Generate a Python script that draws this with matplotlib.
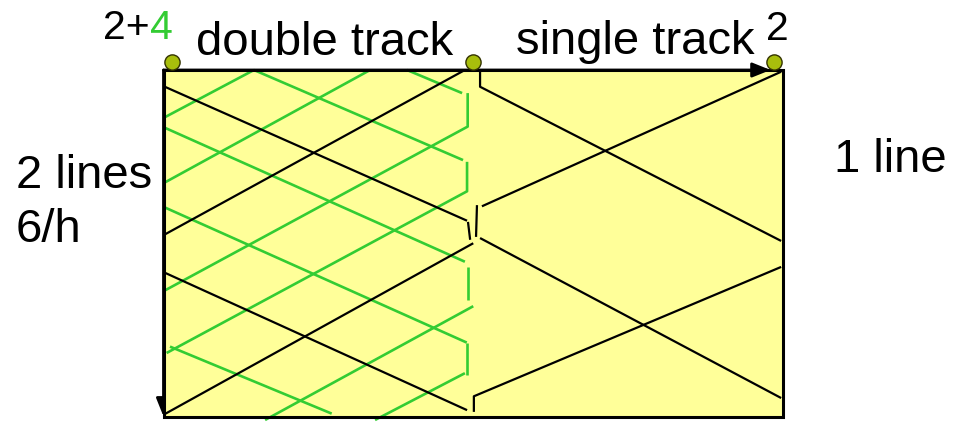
"""
Time-distance sketch: double track section with shuttles, single track beyond.
"""

import matplotlib
matplotlib.use('Agg')
import matplotlib.pyplot as plt
from matplotlib.patches import Rectangle

plt.rcParams['font.family'] = ['Liberation Sans', 'DejaVu Sans']

# Stations (km) and the hour shown (min)
station_km = [0, 10, 20]
dot_km = [0.27, 10.0, 19.7]
hour_min = 60

# Through trains (black), one list per drawn stroke: km and minutes
black_km = [
    [0.0, 9.8],
    [9.83, 9.9],
    [10.0, 0.0],
    [9.73, 0.0],
    [0.0, 9.8],
    [10.22, 10.22, 19.94],
    [19.94, 10.28],
    [10.12, 10.09],
    [10.22, 19.94],
    [19.94, 10.02, 10.02],
]
black_min = [
    [2.8, 26.1],
    [26.3, 29.4],
    [30.0, 59.7],
    [0.0, 28.6],
    [35.0, 58.9],
    [0.0, 2.9, 29.6],
    [0.3, 23.6],
    [23.4, 28.9],
    [29.1, 56.8],
    [34.1, 56.5, 59.2],
]

# Extra shuttles on the double track (green)
green_km = [
    [2.92, 0.0],
    [6.67, 0.0],
    [7.86, 9.64],
    [9.82, 9.82, 0.0],
    [2.92, 9.67],
    [9.8, 9.8, 0.1],
    [0.0, 9.73],
    [9.82, 9.82],
    [10.0, 3.28],
    [0.0, 9.79],
    [9.8, 9.8],
    [9.73, 6.83],
    [0.21, 5.43],
]
green_min = [
    [0.0, 8.3],
    [0.0, 19.6],
    [0.0, 4.0],
    [4.0, 9.8, 38.3],
    [0.0, 15.6],
    [15.9, 21.0, 49.0],
    [9.9, 33.2],
    [34.1, 39.8],
    [40.9, 60.6],
    [23.7, 47.2],
    [47.3, 52.8],
    [52.5, 60.6],
    [47.9, 59.5],
]

# Colours
yellow = '#FFFF99'
green = '#33CC33'
dotcol = '#A8BE0C'

# Pixel layout of the box
W, H = 964, 422
X0, SX = 163.5, 30.975  # px of km 0, px per km
Y0, SY = 70.0, 5.775    # px of min 0, px per min

fig = plt.figure(figsize=(W/100, H/100), dpi=100)
ax = fig.add_axes([0, 0, 1, 1])
ax.set_xlim((0 - X0)/SX, (W - X0)/SX)
ax.set_ylim((H - Y0)/SY, (0 - Y0)/SY)
ax.axis('off')

arrow = dict(arrowstyle='-|>,head_length=0.55,head_width=0.22', mutation_scale=20,
             lw=2, color='k', shrinkA=0, shrinkB=0)

# Time arrow down the left side (half hidden under the box)
ax.annotate('', xy=(station_km[0], hour_min), xytext=(station_km[0], 0),
            arrowprops=arrow, zorder=1)

# Box
ax.add_patch(Rectangle((station_km[0], 0), station_km[-1], hour_min,
                       facecolor=yellow, edgecolor='none', zorder=2))

# Train paths
for xs, ts in zip(green_km, green_min):
    ax.plot(xs, ts, color=green, lw=1.9, zorder=3, solid_capstyle='butt')
for xs, ts in zip(black_km, black_min):
    ax.plot(xs, ts, color='k', lw=1.6, zorder=4, solid_capstyle='butt')

ax.add_patch(Rectangle((station_km[0], 0), station_km[-1], hour_min,
                       facecolor='none', edgecolor='k', lw=2.2, zorder=5))

# Distance arrow along the top
ax.annotate('', xy=(19.6, 0), xytext=(station_km[0], 0),
            arrowprops=arrow, zorder=6)

# Station dots
ax.scatter(dot_km, [-1.45]*len(dot_km), s=120, color=dotcol, edgecolor='#333300',
           lw=1.0, zorder=7, clip_on=False)

# Labels
def fpos(x, y):
    return x/W, 1 - y/H

big = 34
small = 29.5
fig.text(*fpos(103, 39), '2+', fontsize=small, va='baseline')
fig.text(*fpos(150, 39), '4', fontsize=small, va='baseline', color=green)
fig.text(*fpos(196, 55), 'double track', fontsize=big, va='baseline')
fig.text(*fpos(516, 54), 'single track', fontsize=big, va='baseline')
fig.text(*fpos(766, 40), '2', fontsize=small, va='baseline')
fig.text(*fpos(16, 188), '2 lines', fontsize=big, va='baseline')
fig.text(*fpos(16, 242), '6/h', fontsize=big, va='baseline')
fig.text(*fpos(834, 172), '1 line', fontsize=big, va='baseline')

fig.savefig('out.png', dpi=100, facecolor='white')
